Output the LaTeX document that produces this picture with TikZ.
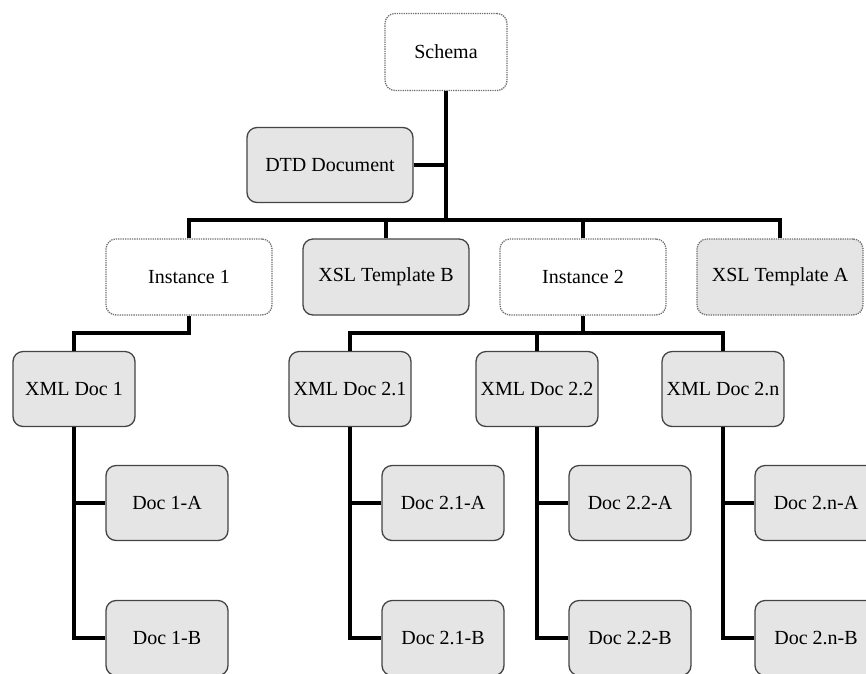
\documentclass[tikz,border=0pt]{standalone}
\usepackage{fontspec}
\setmainfont{Liberation Serif}
\definecolor{boxgray}{HTML}{E5E5E5}
\definecolor{edgegray}{HTML}{444444}
\definecolor{dotgray}{HTML}{6E6E6E}
\tikzset{
  base/.style={rounded corners=10pt, minimum height=75pt, inner sep=0pt,
    font=\fontsize{20}{23}\selectfont, line width=1.3pt},
  solidbox/.style={base, fill=boxgray, draw=edgegray},
  dotwhite/.style={base, fill=white, draw=dotgray, densely dotted},
  dotgraybox/.style={base, fill=boxgray, draw=dotgray, densely dotted},
  wide/.style={minimum width=166pt},
  narrow/.style={minimum width=122pt},
  conn/.style={draw=black, line width=3.5pt, line join=miter}
}
\begin{document}
\begin{tikzpicture}[x=1pt,y=-1pt]
\useasboundingbox (0,0) rectangle (866,673);
% nodes
\node[dotwhite, narrow, minimum height=77pt] (schema) at (446,52) {Schema};
\node[solidbox, wide] (dtd) at (330,165) {DTD Document};
\node[dotwhite, wide, minimum height=76pt] (inst1) at (189,277) {Instance 1};
\node[solidbox, wide, minimum height=76pt] (xslB) at (386,277) {XSL Template B};
\node[dotwhite, wide, minimum height=76pt] (inst2) at (583,277) {Instance 2};
\node[dotgraybox, wide, minimum height=76pt] (xslA) at (780,277) {XSL Template A};
\node[solidbox, narrow] (xml1) at (74,389) {XML Doc 1};
\node[solidbox, narrow] (xml21) at (350,389) {XML Doc 2.1};
\node[solidbox, narrow] (xml22) at (537,389) {XML Doc 2.2};
\node[solidbox, narrow] (xml2n) at (723,389) {XML Doc 2.n};
\node[solidbox, narrow] (d1a) at (167,503) {Doc 1-A};
\node[solidbox, narrow] (d1b) at (167,638) {Doc 1-B};
\node[solidbox, narrow] (d21a) at (443,503) {Doc 2.1-A};
\node[solidbox, narrow] (d21b) at (443,638) {Doc 2.1-B};
\node[solidbox, narrow] (d22a) at (630,503) {Doc 2.2-A};
\node[solidbox, narrow] (d22b) at (630,638) {Doc 2.2-B};
\node[solidbox, narrow] (d2na) at (816,503) {Doc 2.n-A};
\node[solidbox, narrow] (d2nb) at (816,638) {Doc 2.n-B};
% connector junctions
\coordinate (busA) at (446,220);
\coordinate (k1) at (189,333);
\coordinate (busB) at (583,333);
% connectors
\draw[conn] (schema.south) -- (busA);
\draw[conn] (schema.south) |- (dtd.east);
\draw[conn] (inst1.north) |- (busA);
\draw[conn] (xslB.north) |- (busA);
\draw[conn] (inst2.north) |- (busA);
\draw[conn] (xslA.north) |- (busA);
\draw[conn] (inst1.south) -- (k1) -| (xml1.north);
\draw[conn] (inst2.south) -- (busB);
\draw[conn] (xml21.north) |- (busB);
\draw[conn] (xml22.north) |- (busB);
\draw[conn] (xml2n.north) |- (busB);
\draw[conn] (xml1.south) |- (d1a.west);
\draw[conn] (xml1.south) |- (d1b.west);
\draw[conn] (xml21.south) |- (d21a.west);
\draw[conn] (xml21.south) |- (d21b.west);
\draw[conn] (xml22.south) |- (d22a.west);
\draw[conn] (xml22.south) |- (d22b.west);
\draw[conn] (xml2n.south) |- (d2na.west);
\draw[conn] (xml2n.south) |- (d2nb.west);
\end{tikzpicture}
\end{document}
